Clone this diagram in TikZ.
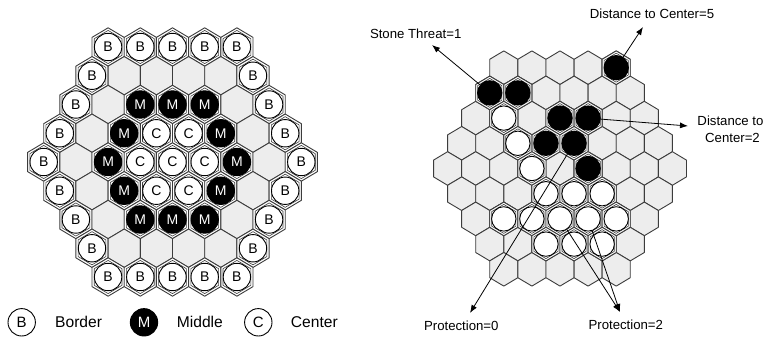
\documentclass[tikz,border=0pt]{standalone}
\usepackage{fontspec}
\setmainfont{Liberation Sans}
\usetikzlibrary{arrows.meta}

\definecolor{cellgray}{HTML}{EDEDED}
\definecolor{hexline}{HTML}{3C3C3C}

\tikzset{
  hexedge/.style={draw=hexline, line width=0.9pt, line join=round},
  emptycell/.style={hexedge, fill=cellgray},
  usedcell/.style={hexedge, fill=white},
  innerhex/.style={draw=hexline, line width=0.6pt, line join=round},
  lstone/.style={circle, draw=black, line width=0.9pt, minimum size=27.4pt,
    inner sep=0pt, font=\fontsize{14}{14}\selectfont},
  bstone/.style={lstone, fill=white},
  mstone/.style={lstone, fill=black, text=white},
  cstone/.style={lstone, fill=white},
  rstone/.style={circle, line width=0.9pt, minimum size=24.4pt, inner sep=0pt},
  rblack/.style={rstone, fill=black, draw=black},
  rwhite/.style={rstone, fill=white, draw=black},
  note/.style={font=\fontsize{13.2}{15}\selectfont, inner sep=0pt},
  legendtext/.style={font=\fontsize{15.6}{17}\selectfont, inner sep=0pt},
  pointer/.style={-{Latex[length=8pt,width=6pt]}, line width=0.8pt},
}

% hexagon: style, centre x, centre y, half width, vertex radius
\newcommand\hexcell[5]{%
  \path[#1] (#2-#4,#3-#5/2) -- (#2,#3-#5) -- (#2+#4,#3-#5/2)
    -- (#2+#4,#3+#5/2) -- (#2,#3+#5) -- (#2-#4,#3+#5/2) -- cycle;}

\begin{document}
\begin{tikzpicture}[x=1pt,y=-1pt]
\useasboundingbox[fill=white] (0,0) rectangle (766,337);

% ---------- left board: rings by distance from the centre ----------
\foreach \r in {0,...,8}{
  \pgfmathtruncatemacro\rr{\r-4}
  \pgfmathtruncatemacro\n{9-abs(\rr)}
  \pgfmathtruncatemacro\qmin{max(-4,-4-\rr)}
  \pgfmathsetmacro\y{162+\rr*28.75}
  \foreach \i in {1,...,\n}{
    \pgfmathtruncatemacro\q{\qmin+\i-1}
    \pgfmathtruncatemacro\d{max(abs(\q),abs(\rr),abs(\q+\rr))}
    \pgfmathsetmacro\x{172.5+(\i-1-(\n-1)/2)*32.2}
    \ifnum\d=3
      \hexcell{emptycell}{\x}{\y}{16.1}{19.2}
    \else
      \hexcell{usedcell}{\x}{\y}{16.1}{19.2}
      \hexcell{innerhex}{\x}{\y}{13.9}{16.6}
      \ifcase\d
        \node[cstone] (L-\r-\i) at (\x,\y) {C};
      \or
        \node[cstone] (L-\r-\i) at (\x,\y) {C};
      \or
        \node[mstone] (L-\r-\i) at (\x,\y) {M};
      \or
      \or
        \node[bstone] (L-\r-\i) at (\x,\y) {B};
      \fi
    \fi
  }
}

% ---------- legend ----------
\node[bstone, font=\fontsize{15}{15}\selectfont] (legB) at (21.7,322.3) {B};
\node[legendtext, anchor=base west] (legBt) at (55,327.7) {Border};
\node[mstone, font=\fontsize{15}{15}\selectfont] (legM) at (144,322.3) {M};
\node[legendtext, anchor=base west] (legMt) at (176.7,327.7) {Middle};
\node[cstone, font=\fontsize{15}{15}\selectfont] (legC) at (258.3,322.3) {C};
\node[legendtext, anchor=base west] (legCt) at (290.7,327.7) {Center};

% ---------- right board: empty cells ----------
\foreach \r in {0,...,8}{
  \pgfmathtruncatemacro\n{9-abs(\r-4)}
  \pgfmathsetmacro\y{168.5+(\r-4)*25.2}
  \foreach \i in {1,...,\n}{
    \pgfmathsetmacro\x{560+(\i-1-(\n-1)/2)*28.1}
    \hexcell{emptycell}{\x}{\y}{14.05}{16.8}
  }
}

% ---------- right board: stones (row/index/colour) ----------
\foreach \r/\i/\s in {0/4/rblack, 1/0/rblack, 1/1/rblack, 2/3/rblack,
    2/4/rblack, 3/3/rblack, 3/4/rblack, 4/5/rblack,
    2/1/rwhite, 3/2/rwhite, 4/3/rwhite, 5/3/rwhite, 5/4/rwhite, 5/5/rwhite,
    6/1/rwhite, 6/2/rwhite, 6/3/rwhite, 6/4/rwhite, 6/5/rwhite,
    7/2/rwhite, 7/3/rwhite, 7/4/rwhite}{
  \pgfmathtruncatemacro\n{9-abs(\r-4)}
  \pgfmathsetmacro\y{168.5+(\r-4)*25.2}
  \pgfmathsetmacro\x{560+(\i-(\n-1)/2)*28.1}
  \hexcell{usedcell}{\x}{\y}{14.05}{16.8}
  \hexcell{innerhex}{\x}{\y}{12.1}{14.5}
  \node[\s] (R-\r-\i) at (\x,\y) {};
}

% ---------- annotations ----------
\node[note, anchor=base] (threat) at (415.7,38.5) {Stone Threat=1};
\node[note, anchor=base] (dist5) at (652,18.3) {Distance to Center=5};
\node[note, anchor=base] (dist2a) at (730.5,125.5) {Distance to};
\node[note, anchor=base] (dist2b) at (732.5,142) {Center=2};
\node[note, anchor=base] (prot0) at (461.3,330) {Protection=0};
\node[note, anchor=base] (prot2) at (625.8,329) {Protection=2};

\coordinate (tipThreat) at (432,45);
\coordinate (tipDist5) at (643,27);
\coordinate (tipDist2) at (688,126);
\coordinate (tipProt0) at (470,313);
\coordinate (tipProt2) at (620,312);

\draw[pointer] (R-1-0) -- (tipThreat);
\draw[pointer] (R-0-4) -- (tipDist5);
\draw[pointer] (R-2-4) -- (tipDist2);
\draw[pointer] (R-3-4) -- (tipProt0);
\draw[pointer] (R-6-3) -- (tipProt2);
\draw[pointer] (R-6-4) -- (tipProt2);
\end{tikzpicture}
\end{document}
